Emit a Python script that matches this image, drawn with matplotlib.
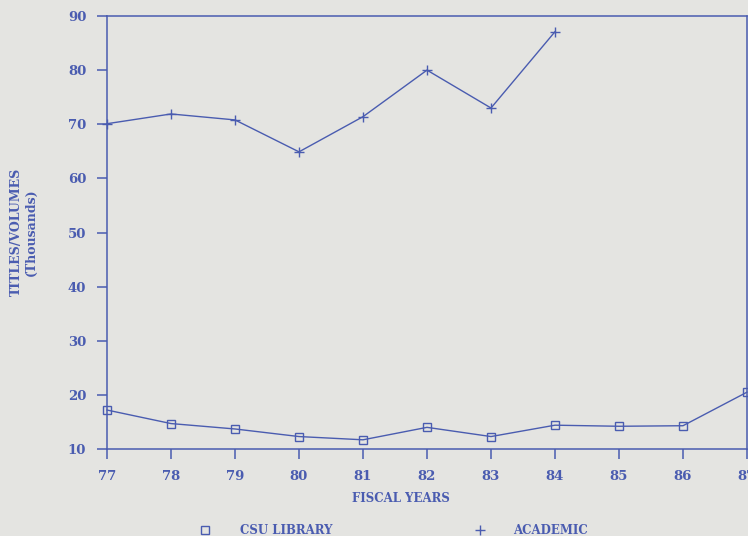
import matplotlib.pyplot as plt
from matplotlib.lines import Line2D

years = [77, 78, 79, 80, 81, 82, 83, 84, 85, 86, 87]
csu_library = [17.2, 14.7, 13.7, 12.3, 11.7, 14.0, 12.3, 14.4, 14.2, 14.3, 20.5]
academic_years = [77, 78, 79, 80, 81, 82, 83, 84]
academic = [70.1, 71.9, 70.8, 64.9, 71.4, 80.0, 73.0, 87.1]
y_ticks = [10, 20, 30, 40, 50, 60, 70, 80, 90]

blue = '#4a5cb0'
bg = '#e4e4e1'
font = dict(family='DejaVu Serif', weight='bold', color=blue)

fig = plt.figure(figsize=(7.48, 5.36), dpi=100, facecolor=bg)
ax = fig.add_axes([107 / 748, 1 - 449 / 536, 640 / 748, 433 / 536])
ax.set_facecolor(bg)

ax.plot(years, csu_library, color=blue, lw=1.0, marker='s', ms=6,
        mfc='none', mec=blue, mew=1.0, clip_on=False)
ax.plot(academic_years, academic, color=blue, lw=1.0, marker='+', ms=7,
        mew=1.0, clip_on=False)

ax.set_xlim(77, 87)
ax.set_ylim(10, 90)
ax.set_xticks(years)
ax.set_yticks(y_ticks)
for s in ax.spines.values():
    s.set_color(blue)
    s.set_linewidth(1.1)
ax.tick_params(colors=blue, length=7, width=1.1, direction='out', pad=8)
for lab in ax.get_xticklabels() + ax.get_yticklabels():
    lab.set_fontfamily('DejaVu Serif')
    lab.set_fontweight('bold')
    lab.set_fontsize(9.5)

fig.text(401 / 748, 1 - 499 / 536, 'FISCAL YEARS', ha='center', va='center',
         fontsize=8.5, **font)
fig.text(24 / 748, 1 - 232 / 536, 'TITLES/VOLUMES\n(Thousands)', rotation=90,
         ha='center', va='center', fontsize=9, linespacing=1.15, **font)

# legend row under the x label
ly = 1 - 530 / 536
fig.add_artist(Line2D([205 / 748], [ly], transform=fig.transFigure, marker='s',
                      ms=6, mfc='none', mec=blue, mew=1.0, ls='none'))
fig.text(240 / 748, ly, 'CSU LIBRARY', ha='left', va='center', fontsize=8.5, **font)
fig.add_artist(Line2D([480 / 748], [ly], transform=fig.transFigure, marker='+',
                      ms=7, mec=blue, mew=1.0, ls='none'))
fig.text(513 / 748, ly, 'ACADEMIC', ha='left', va='center', fontsize=8.5, **font)

fig.savefig('out.png', dpi=100, facecolor=bg)
